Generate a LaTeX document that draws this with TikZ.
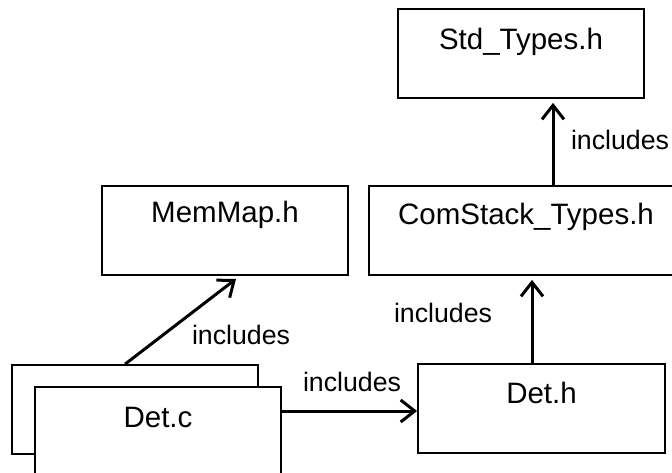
\documentclass[tikz,border=0pt]{standalone}
\usepackage{fontspec}
\setmainfont{Liberation Sans}
\usetikzlibrary{arrows.meta,calc}
\begin{document}
\begin{tikzpicture}[x=1pt,y=-1pt,
  filebox/.style={draw=black,line width=1.8pt,fill=white,rectangle,inner sep=0pt,
    minimum width=246pt,minimum height=89pt},
  boxtext/.style={font=\fontsize{29.5}{32}\selectfont,anchor=center},
  arr/.style={line width=3pt,-{Straight Barb[length=14pt,width=22pt,line width=3pt]}},
  lbl/.style={font=\fontsize{26.7}{30}\selectfont,inner sep=0pt}]
\useasboundingbox[fill=white] (0,0) rectangle (672,472);
\node[filebox] (std) at (521,53.5) {};
\node[boxtext] (stdt) at (521,42) {Std\_Types.h};
\node[filebox,minimum width=330pt] (comstack) at (534,230.5) {};
\node[boxtext] (comstackt) at (526,217) {ComStack\_Types.h};
\node[filebox] (memmap) at (225,230.5) {};
\node[boxtext] (memmapt) at (225,215) {MemMap.h};
\node[filebox,minimum width=247pt] (deth) at (541.5,408.5) {};
\node[boxtext] (detht) at (541.5,393) {Det.h};
\node[filebox] (detcback) at (135,409.5) {};
\node[filebox] (detc) at (158,431.5) {};
\node[boxtext] (detct) at (158,417) {Det.c};
% connectors
\draw[arr] ($(detcback.north west)+(114,0)$) -- ($(memmap.south)+(11,3)$);
\draw[arr] ($(detc.east)+(0,-20.5)$) -- ($(deth.west)+(0,2.5)$);
\draw[arr] ($(deth.north)+(-9.5,0)$) -- ($(comstack.south)+(-2,4)$);
\draw[arr] ($(comstack.north)+(19,0)$) -- ($(std.south)+(32,4)$);
% labels
\node[lbl] (l1) at (620,140) {includes};
\node[lbl] (l2) at (443,313) {includes};
\node[lbl] (l3) at (241,335) {includes};
\node[lbl] (l4) at (352,382) {includes};
\end{tikzpicture}
\end{document}
